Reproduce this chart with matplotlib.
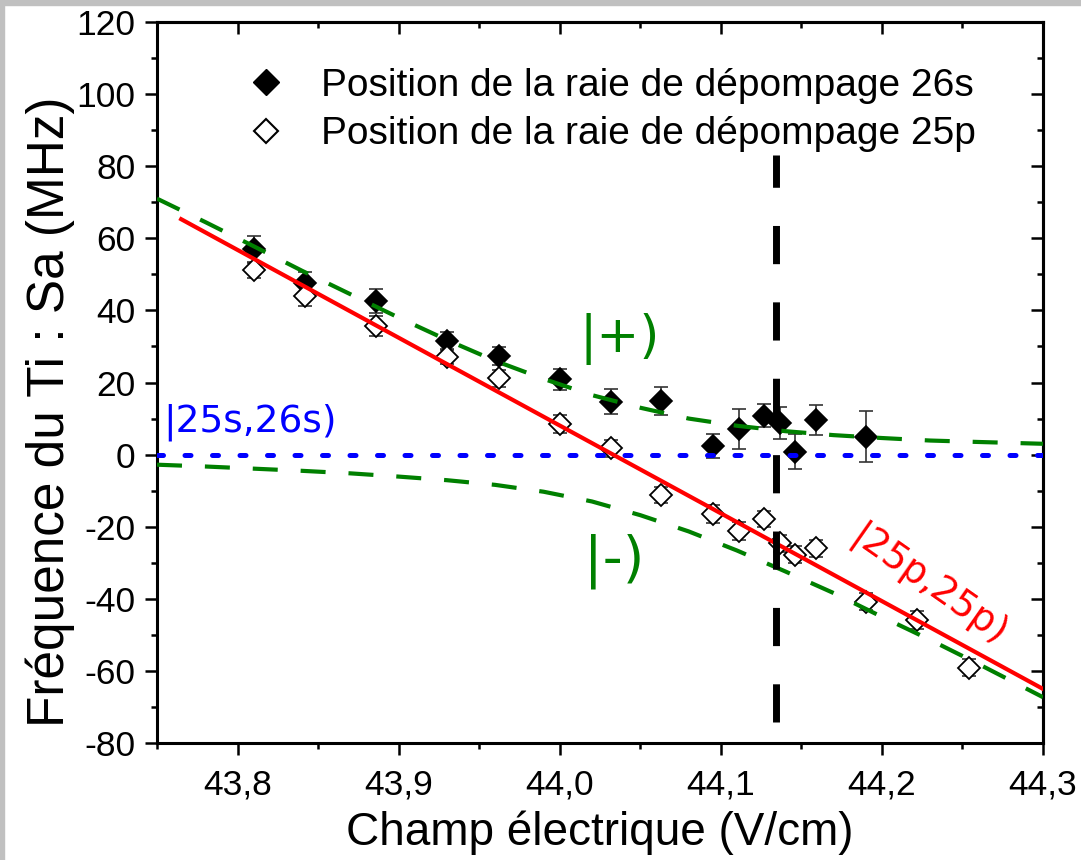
import matplotlib.pyplot as plt
from matplotlib.lines import Line2D
from matplotlib.patches import Rectangle
from matplotlib.ticker import MultipleLocator, FuncFormatter

plt.rcParams['font.family'] = ['Liberation Sans', 'DejaVu Sans']

# Position de la raie de dépompage 26s (filled diamonds)
x_26s = [43.810, 43.842, 43.886, 43.930, 43.962, 44.000, 44.032, 44.063,
         44.095, 44.111, 44.127, 44.137, 44.146, 44.159, 44.190]
y_26s = [56.9, 47.6, 42.6, 31.6, 27.3, 20.9, 14.7, 14.9,
         2.4, 7.1, 10.8, 8.8, 0.8, 9.6, 5.0]
err_26s = [3.8, 3.0, 3.2, 2.5, 2.5, 2.9, 3.4, 3.8,
           3.4, 5.6, 3.2, 4.4, 4.9, 4.2, 7.1]

# Position de la raie de dépompage 25p (open diamonds)
x_25p = [43.810, 43.842, 43.886, 43.930, 43.962, 44.000, 44.032, 44.063,
         44.095, 44.111, 44.127, 44.137, 44.146, 44.159, 44.190, 44.222, 44.254]
y_25p = [51.2, 44.0, 35.7, 27.2, 21.2, 8.5, 1.7, -11.2,
         -16.5, -21.2, -17.9, -24.6, -27.8, -26.0, -40.8, -45.9, -59.1]
err_25p = [2.2, 2.8, 2.8, 2.2, 2.4, 2.4, 2.4, 2.3,
           2.4, 2.5, 2.3, 2.4, 2.4, 2.4, 2.4, 2.4, 2.4]

# |25p,25p) line
x_red = [43.765, 44.300]
y_red = [65.3, -65.0]

# |25s,26s) level
x_blue = [43.75, 44.30]
y_blue = [0.0, 0.0]

# |+) and |-) curves (read off the picture)
x_green = [43.75, 43.78, 43.81, 43.84, 43.87, 43.90, 43.93, 43.96, 43.99, 44.02,
           44.05, 44.08, 44.11, 44.14, 44.17, 44.20, 44.23, 44.26, 44.30]
y_plus = [71.0, 64.5, 57.8, 51.0, 44.5, 38.0, 31.8, 26.0, 21.0, 16.5,
          13.0, 10.0, 8.0, 6.5, 5.4, 4.6, 3.9, 3.5, 3.0]
y_minus = [-2.8, -3.3, -3.9, -4.5, -5.2, -6.1, -7.1, -8.4, -10.3, -13.0,
           -16.8, -21.3, -26.6, -32.4, -38.4, -45.0, -51.4, -58.1, -67.3]

# vertical marker (drawn bottom to top)
x_black = [44.134, 44.134]
y_black = [-74.2, 83.1]

W, H = 1081, 860
fig = plt.figure(figsize=(W / 100, H / 100), dpi=100)
fig.patch.set_facecolor('white')
# grey frame on top and left edges
fig.patches.append(Rectangle((0, 1 - 5 / H), 1, 5 / H, transform=fig.transFigure,
                             color='#c0c0c0', zorder=0))
fig.patches.append(Rectangle((0, 0), 4 / W, 1, transform=fig.transFigure,
                             color='#c0c0c0', zorder=0))

ax = fig.add_axes([157 / W, 1 - 743 / H, (1043 - 157) / W, (743 - 22) / H])

# data points
ax.errorbar(x_26s, y_26s, yerr=err_26s, fmt='none', ecolor='#333333',
            elinewidth=1.2, capsize=5, capthick=1.2, zorder=2)
ax.errorbar(x_25p, y_25p, yerr=err_25p, fmt='none', ecolor='#333333',
            elinewidth=1.2, capsize=5, capthick=1.2, zorder=2)
ax.plot(x_26s, y_26s, 'D', ms=11, mfc='black', mec='black', mew=1.2, zorder=3)
ax.plot(x_25p, y_25p, 'D', ms=11, mfc='white', mec='black', mew=1.3, zorder=3)

# lines
ax.plot(x_blue, y_blue, color='#0000ff', lw=3.6, dashes=(1.2, 4.3),
        dash_capstyle='round', zorder=4)
ax.plot(x_green, y_plus, color='#008000', lw=3, dashes=(6.0, 5.5), zorder=5)
ax.plot(x_green, y_minus, color='#008000', lw=3, dashes=(6.0, 5.5), zorder=5)
ax.plot(x_red, y_red, color='#ff0000', lw=3, zorder=6)
ax.plot(x_black, y_black, color='black', lw=5, dashes=(5.5, 5.5), zorder=7)

# ket labels
ax.text(43.7537, 9.0, '|25s,26s)', color='#0000ff', fontsize=27,
        family='DejaVu Sans', ha='left', va='center')
ax.text(44.037, 32.0, '|+)', color='#008000', fontsize=37,
        family='DejaVu Sans', ha='center', va='center')
ax.text(44.034, -29.5, '|-)', color='#008000', fontsize=40,
        family='DejaVu Sans', ha='center', va='center')
ax.text(44.229, -36.5, '|25p,25p)', color='#ff0000', fontsize=27,
        family='DejaVu Sans', ha='center', va='center', rotation=-35,
        rotation_mode='anchor')

# axes
ax.set_xlim(43.75, 44.30)
ax.set_ylim(-80, 120)
ax.xaxis.set_major_locator(MultipleLocator(0.1))
ax.xaxis.set_minor_locator(MultipleLocator(0.05))
ax.yaxis.set_major_locator(MultipleLocator(20))
ax.yaxis.set_minor_locator(MultipleLocator(10))
ax.xaxis.set_major_formatter(FuncFormatter(lambda v, p: f'{v:.1f}'.replace('.', ',')))
ax.yaxis.set_major_formatter(FuncFormatter(lambda v, p: f'{v:.0f}'))
for s in ax.spines.values():
    s.set_linewidth(2.2)
ax.tick_params(which='major', direction='out', length=8.5, width=1.8,
               labelsize=25.5, pad=7)
ax.tick_params(axis='x', which='major', pad=10)
ax.tick_params(which='minor', direction='out', length=4.5, width=1.8)

# top and right ticks point inward
top = ax.secondary_xaxis('top')
top.xaxis.set_major_locator(MultipleLocator(0.1))
top.xaxis.set_minor_locator(MultipleLocator(0.05))
top.tick_params(which='major', direction='in', length=8.5, width=1.8, labeltop=False)
top.tick_params(which='minor', direction='in', length=4.5, width=1.8)
top.spines['top'].set_linewidth(2.2)
right = ax.secondary_yaxis('right')
right.yaxis.set_major_locator(MultipleLocator(20))
right.yaxis.set_minor_locator(MultipleLocator(10))
right.tick_params(which='major', direction='in', length=8.5, width=1.8, labelright=False)
right.tick_params(which='minor', direction='in', length=4.5, width=1.8)
right.spines['right'].set_linewidth(2.2)

ax.set_xlabel('Champ électrique (V/cm)', fontsize=33, labelpad=6)
ax.set_ylabel('Fréquence du Ti : Sa (MHz)', fontsize=37)
ax.yaxis.set_label_coords(-0.093, 0.46)

handles = [Line2D([], [], ls='none', marker='D', ms=13, mfc='black', mec='black'),
           Line2D([], [], ls='none', marker='D', ms=12, mfc='white', mec='black', mew=1.5)]
labels = ['Position de la raie de dépompage 26s', 'Position de la raie de dépompage 25p']
ax.legend(handles, labels, loc='upper left', bbox_to_anchor=(0.062, 0.985),
          frameon=False, fontsize=28, handletextpad=0.9, labelspacing=0.32,
          handlelength=1.0)

fig.savefig('out.png', dpi=100)
